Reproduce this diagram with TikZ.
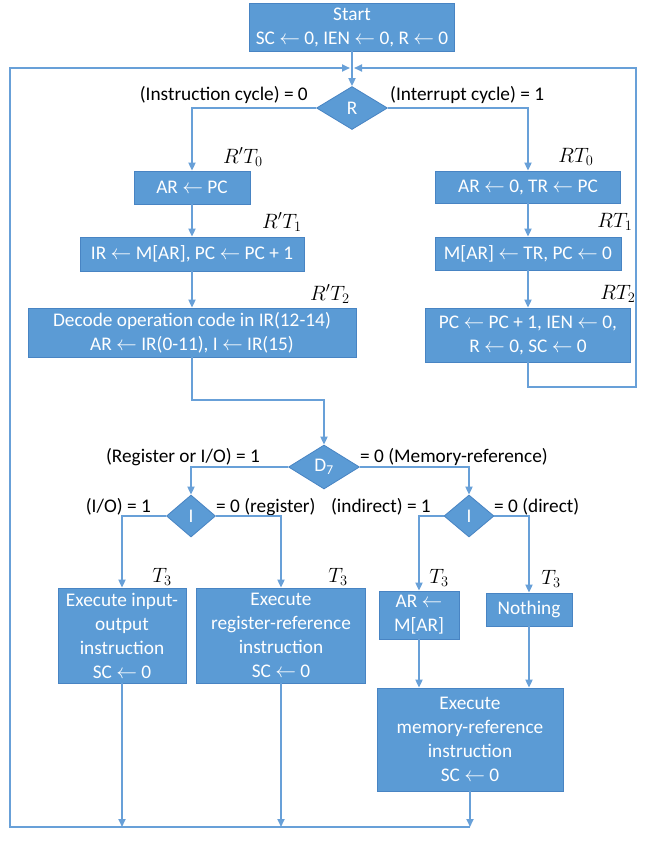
\documentclass[tikz,border=0pt]{standalone}
\usepackage{fontspec}
\setmainfont{Carlito}
\usetikzlibrary{shapes.geometric,arrows.meta}
\definecolor{boxblue}{RGB}{91,155,213}
\definecolor{boxedge}{RGB}{72,132,195}
\definecolor{lineblue}{RGB}{104,160,216}
\newcommand{\la}{\ensuremath{\leftarrow}}
\tikzset{
  box/.style={draw=boxedge, line width=0.8pt, fill=boxblue, text=white, inner sep=0pt, align=center,
    font=\fontsize{19.3}{24}\selectfont},
  dia/.style={diamond, draw=boxedge, line width=0.8pt, fill=boxblue, text=white, inner sep=0pt,
    font=\fontsize{19.3}{22}\selectfont},
  lbl/.style={inner sep=0pt, font=\fontsize{19.3}{22}\selectfont},
  mlbl/.style={inner sep=0pt, font=\fontsize{20}{22}\selectfont},
  arr/.style={draw=lineblue, line width=1.8pt, -{Triangle[length=8pt,width=7pt]}},
  ln/.style={draw=lineblue, line width=1.8pt}
}
\begin{document}
\begin{tikzpicture}[x=1pt,y=-1pt]
\useasboundingbox[fill=white] (0,0) rectangle (647,868);
% boxes
\node[box, minimum width=205pt, minimum height=48pt] (start) at (352,27) {Start\\SC \la{} 0, IEN \la{} 0, R \la{} 0};
\node[dia, minimum width=71pt, minimum height=43pt] (R) at (352,108) {R};
\node[box, minimum width=116pt, minimum height=33pt] (arpc) at (192,187.5) {AR \la{} PC};
\node[box, minimum width=224pt, minimum height=34pt] (irm) at (192,254) {IR \la{} M[AR], PC \la{} PC + 1};
\node[box, minimum width=328pt, minimum height=49pt] (decode) at (192,332.5) {Decode operation code in IR(12-14)\\AR \la{} IR(0-11), I \la{} IR(15)};
\node[box, minimum width=185pt, minimum height=32pt] (ar0) at (528,187) {AR \la{} 0, TR \la{} PC};
\node[box, minimum width=186pt, minimum height=33pt] (mar) at (528,253.5) {M[AR] \la{} TR, PC \la{} 0};
\node[box, minimum width=205pt, minimum height=54pt] (pcbox) at (528,335) {PC \la{} PC + 1, IEN \la{} 0,\\R \la{} 0, SC \la{} 0};
\node[dia, minimum width=71pt, minimum height=44pt] (D7) at (324,467) {D\textsubscript{7}};
\node[dia, minimum width=49pt, minimum height=42pt] (I1) at (191,516) {I};
\node[dia, minimum width=50pt, minimum height=42pt] (I2) at (469,516) {I};
\node[box, minimum width=128pt, minimum height=95pt] (io) at (122,635.5) {Execute input-\\output\\instruction\\SC \la{} 0};
\node[box, minimum width=169pt, minimum height=95pt] (reg) at (281,635.5) {Execute\\register-reference\\instruction\\SC \la{} 0};
\node[box, minimum width=80pt, minimum height=48pt] (armar) at (419,615) {AR \la\\M[AR]};
\node[box, minimum width=86pt, minimum height=33pt] (nothing) at (529,609.5) {Nothing};
\node[box, minimum width=186pt, minimum height=103pt] (mem) at (470,739.5) {Execute\\memory-reference\\instruction\\SC \la{} 0};
% labels
\node[lbl, anchor=east] (lR0) at (308,95) {(Instruction cycle) = 0};
\node[lbl, anchor=west] (lR1) at (390,95) {(Interrupt cycle) = 1};
\node[mlbl] (t0) at (243,157) {$R'T_0$};
\node[mlbl] (t1) at (282,222) {$R'T_1$};
\node[mlbl] (t2) at (330,294) {$R'T_2$};
\node[mlbl] (rt0) at (576,157) {$RT_0$};
\node[mlbl] (rt1) at (615,222) {$RT_1$};
\node[mlbl] (rt2) at (618,294) {$RT_2$};
\node[lbl, anchor=east] (lD1) at (260,457) {(Register or I/O) = 1};
\node[lbl, anchor=west] (lD0) at (360,457) {= 0 (Memory-reference)};
\node[lbl, anchor=east] (lI11) at (151,507) {(I/O) = 1};
\node[lbl, anchor=west] (lI10) at (216,507) {= 0 (register)};
\node[lbl, anchor=east] (lI21) at (431,507) {(indirect) = 1};
\node[lbl, anchor=west] (lI20) at (494,507) {= 0 (direct)};
\node[mlbl] (t3a) at (162,577) {$T_3$};
\node[mlbl] (t3b) at (338,577) {$T_3$};
\node[mlbl] (t3c) at (439,578) {$T_3$};
\node[mlbl] (t3d) at (551,579) {$T_3$};
% coordinates
\coordinate (bL) at (10,827);
\coordinate (tL) at (10,68);
\coordinate (inL) at (350,68);
\coordinate (r1) at (528,387);
\coordinate (r2) at (636,387);
\coordinate (r3) at (636,68);
\coordinate (inR) at (354,68);
\coordinate (j1) at (324,400);
% connectors
\draw[arr] (start.south) -- (R.north);
\draw[arr] (R.west) -| (arpc.north);
\draw[arr] (R.east) -| (ar0.north);
\draw[arr] (arpc.south) -- (irm.north);
\draw[arr] (irm.south) -- (decode.north);
\draw[arr] (decode.south) |- (j1) -- (D7.north);
\draw[arr] (ar0.south) -- (mar.north);
\draw[arr] (mar.south) -- (pcbox.north);
\draw[arr] (pcbox.south) -- (r1) -- (r2) -- (r3) -- (inR);
\draw[arr] (D7.west) -| (I1.north);
\draw[arr] (D7.east) -| (I2.north);
\draw[arr] (I1.west) -| (io.north);
\draw[arr] (I1.east) -| (reg.north);
\draw[arr] (I2.west) -| (armar.north);
\draw[arr] (I2.east) -| (nothing.north);
\draw[arr] (armar.south) -- (armar.south |- mem.north);
\draw[arr] (nothing.south) -- (nothing.south |- mem.north);
\draw[arr] (io.south) -- (io.south |- bL);
\draw[arr] (reg.south) -- (reg.south |- bL);
\draw[arr] (mem.south) -- (mem.south |- bL);
\draw[arr] (mem.south |- bL) -- (bL) -- (tL) -- (inL);
\end{tikzpicture}
\end{document}
